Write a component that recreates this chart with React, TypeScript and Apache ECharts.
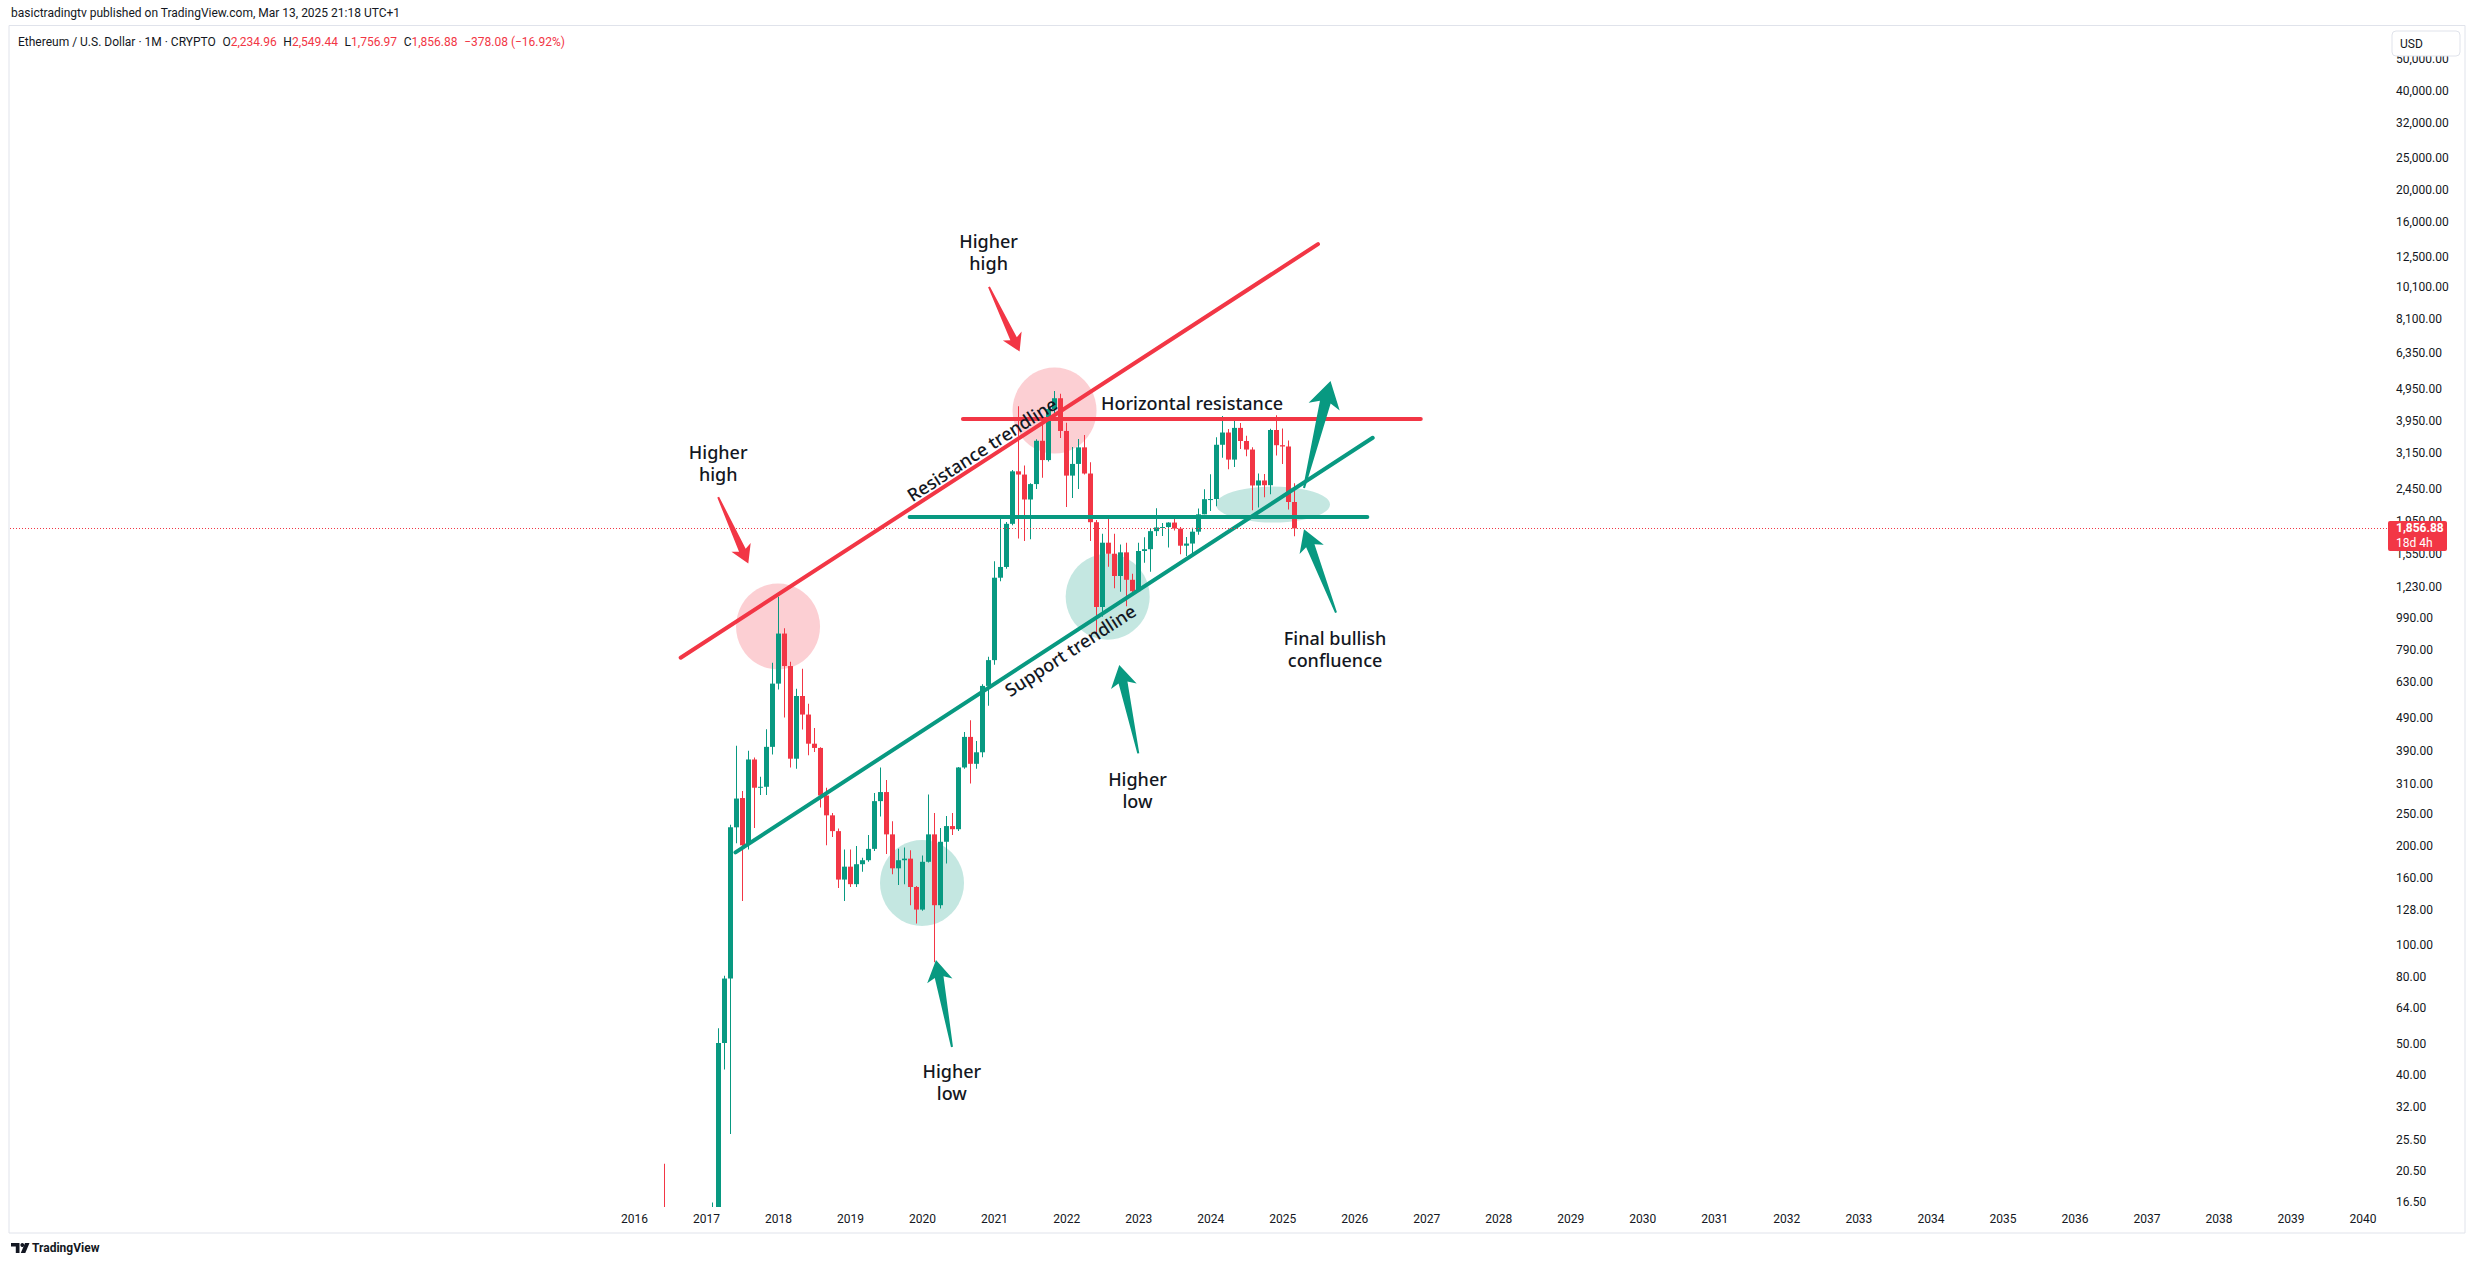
import React, { useEffect, useRef } from "react";
import * as echarts from "echarts";

const RED = "#F23645";
const GREEN = "#089981";
const TEXT = "#131722";
const FONT = "Roboto, 'Noto Sans', sans-serif";
const NOTE_FONT = "'Noto Sans', Roboto, sans-serif";

// ---- monthly candles (ETH / USD, CRYPTO index) ----
const months = [
  "2016-06", "2016-07", "2016-08", "2016-09", "2016-10", "2016-11", "2016-12",
  "2017-01", "2017-02", "2017-03", "2017-04", "2017-05", "2017-06", "2017-07", "2017-08", "2017-09", "2017-10", "2017-11", "2017-12",
  "2018-01", "2018-02", "2018-03", "2018-04", "2018-05", "2018-06", "2018-07", "2018-08", "2018-09", "2018-10", "2018-11", "2018-12",
  "2019-01", "2019-02", "2019-03", "2019-04", "2019-05", "2019-06", "2019-07", "2019-08", "2019-09", "2019-10", "2019-11", "2019-12",
  "2020-01", "2020-02", "2020-03", "2020-04", "2020-05", "2020-06", "2020-07", "2020-08", "2020-09", "2020-10", "2020-11", "2020-12",
  "2021-01", "2021-02", "2021-03", "2021-04", "2021-05", "2021-06", "2021-07", "2021-08", "2021-09", "2021-10", "2021-11", "2021-12",
  "2022-01", "2022-02", "2022-03", "2022-04", "2022-05", "2022-06", "2022-07", "2022-08", "2022-09", "2022-10", "2022-11", "2022-12",
  "2023-01", "2023-02", "2023-03", "2023-04", "2023-05", "2023-06", "2023-07", "2023-08", "2023-09", "2023-10", "2023-11", "2023-12",
  "2024-01", "2024-02", "2024-03", "2024-04", "2024-05", "2024-06", "2024-07", "2024-08", "2024-09", "2024-10", "2024-11", "2024-12",
  "2025-01", "2025-02", "2025-03",
];
const opens = [
  14.0, 12.4, 11.8, 11.5, 13.2, 10.9, 8.6,
  8.0, 10.7, 15.7, 50.2, 78.9, 228, 280, 204, 367, 301, 303, 401,
  625, 888, 707, 369, 573, 503, 410, 398, 285, 248, 222, 158,
  173, 153, 176, 181, 196, 274, 292, 217, 171, 181, 183, 150,
  128, 179, 217, 132, 206, 230, 225, 347, 430, 356, 386, 615,
  737, 1314, 1417, 1918, 2772, 2710, 2275, 2535, 3435, 3000, 4290, 4630,
  3680, 2690, 2920, 3280, 2730, 1940, 1070, 1680, 1555, 1330, 1570, 1295,
  1196, 1585, 1605, 1822, 1870, 1875, 1935, 1855, 1645, 1670, 1815, 2050,
  2280, 2282, 3340, 3640, 3010, 3760, 3430, 3230, 2510, 2600, 2515, 3705,
  3330, 3300, 2234.96,
];
const highs = [
  21.5, 14.6, 12.3, 14.5, 14.3, 11.3, 8.9,
  11.5, 16.4, 55.7, 80.5, 232, 404, 294, 390, 372, 325, 454, 723,
  1150, 922, 728, 603, 694, 543, 458, 400, 301, 252, 226, 195,
  195, 200, 184, 216, 290, 347, 318, 238, 196, 198, 194, 151,
  187, 287, 252, 227, 247, 252, 348, 445, 483, 418, 622, 755,
  1475, 2040, 1943, 2797, 4380, 2890, 2550, 3470, 4030, 4460, 4870, 4780,
  3900, 3290, 3480, 3580, 2955, 1970, 1790, 2030, 1790, 1660, 1680, 1350,
  1680, 1745, 1850, 2140, 1930, 1940, 2030, 1875, 1750, 1865, 2135, 2445,
  2715, 3520, 4090, 3730, 3975, 3890, 3560, 3280, 2730, 2720, 3740, 4110,
  3745, 3440, 2549.44,
];
const lows = [
  11.2, 10.6, 10.0, 11.3, 10.6, 8.3, 6.0,
  8.0, 10.5, 15.2, 41.7, 26.5, 204, 136, 195, 227, 286, 286, 380,
  600, 493, 347, 344, 453, 378, 387, 262, 201, 213, 149, 136,
  150, 150, 167, 179, 193, 246, 189, 164, 152, 153, 132, 116,
  127, 178, 88.5, 129, 177, 216, 222, 344, 310, 344, 373, 535,
  714, 1282, 1400, 1900, 1730, 1700, 1720, 2450, 2650, 2970, 3960, 3500,
  2160, 2300, 2450, 2710, 1700, 880, 1000, 1420, 1220, 1190, 1075, 1160,
  1190, 1460, 1370, 1760, 1760, 1625, 1830, 1550, 1530, 1520, 1775, 2050,
  2100, 2170, 3050, 2815, 2860, 3240, 3080, 2110, 2150, 2310, 2360, 3100,
  2920, 2120, 1756.97,
];
const closes = [
  12.4, 11.8, 11.5, 13.2, 10.9, 8.6, 8.0,
  10.7, 15.7, 50.2, 78.9, 228, 279, 201, 367, 301, 303, 401, 625,
  888, 707, 369, 573, 503, 410, 398, 285, 248, 222, 158, 173,
  153, 176, 181, 196, 274, 292, 217, 171, 181, 183, 150, 128,
  179, 217, 132, 206, 230, 225, 347, 430, 356, 386, 615, 737,
  1314, 1417, 1918, 2772, 2710, 2275, 2535, 3435, 3000, 4290, 4630, 3680,
  2690, 2920, 3280, 2730, 1940, 1070, 1680, 1555, 1330, 1570, 1295, 1196,
  1585, 1605, 1822, 1870, 1875, 1935, 1855, 1645, 1670, 1815, 2050, 2280,
  2282, 3340, 3640, 3010, 3760, 3430, 3230, 2510, 2600, 2515, 3705, 3330,
  3300, 2234.96, 1856.88,
];

// ---- axis tick labels ----
const yearLabels = [
  2016, 2017, 2018, 2019, 2020, 2021, 2022, 2023, 2024, 2025, 2026, 2027, 2028,
  2029, 2030, 2031, 2032, 2033, 2034, 2035, 2036, 2037, 2038, 2039, 2040,
];
const priceLabels = [
  50000, 40000, 32000, 25000, 20000, 16000, 12500, 10100, 8100, 6350, 4950, 3950,
  3150, 2450, 1950, 1550, 1230, 990, 790, 630, 490, 390, 310, 250, 200, 160, 128,
  100, 80, 64, 50, 40, 32, 25.5, 20.5, 16.5,
];

// visible window of the chart (time in years, price in USD)
const X_MIN = 2007.329;
const X_MAX = 2040.333;
const Y_MIN = 15.88;
const Y_MAX = 63090;

// ---- drawings (time, price) ----
const trendLines = [
  { from: [2016.641, 749.6], to: [2025.49, 13650], color: RED },
  { from: [2017.402, 191.2], to: [2026.25, 3508], color: GREEN },
  { from: [2020.56, 4002], to: [2026.917, 4002], color: RED },
  { from: [2019.82, 2018], to: [2026.175, 2018], color: GREEN },
];
const lineLabels = [
  { text: "Resistance trendline", line: 0, frac: 0.482, above: true },
  { text: "Support trendline", line: 1, frac: 0.514, above: false },
];
const circles = [
  { at: [2017.993, 933], size: [84, 86], color: "rgba(242,54,69,0.3)" },
  { at: [2021.832, 4245], size: [84, 86], color: "rgba(242,54,69,0.3)" },
  { at: [2019.992, 154.3], size: [84, 86], color: "rgba(8,153,129,0.3)" },
  { at: [2022.57, 1150], size: [84, 86], color: "rgba(8,153,129,0.3)" },
  { at: [2024.866, 2196], size: [114, 36], color: "rgba(8,153,129,0.3)" },
];
// [tail time, tail price, tip time, tip price]
const redArrows = [
  [2017.162, 2314, 2017.58, 1453],
  [2020.922, 10115, 2021.347, 6428],
];
const greenArrows = [
  [2020.408, 48.8, 2020.186, 89.9],
  [2022.995, 383, 2022.731, 712],
  [2025.296, 2466, 2025.664, 5225],
  [2025.74, 1028, 2025.296, 1845],
];
const notes = [
  { text: "Higher\nhigh", at: [2017.162, 2936] },
  { text: "Higher\nhigh", at: [2020.917, 12960] },
  { text: "Horizontal resistance", at: [2023.741, 4465] },
  { text: "Higher\nlow", at: [2022.984, 296] },
  { text: "Higher\nlow", at: [2020.406, 38.2] },
  { text: "Final bullish\nconfluence", at: [2025.727, 797] },
];

const fmt2 = (v: number) =>
  Number(v).toLocaleString("en-US", { minimumFractionDigits: 2, maximumFractionDigits: 2 });
const monthTime = (s: string) => {
  const [y, m] = s.split("-").map(Number);
  return y + (m - 1) / 12;
};

function arrowRenderer(color: string) {
  return (params: any, api: any) => {
    const a = api.coord([api.value(0), api.value(1)]);
    const b = api.coord([api.value(2), api.value(3)]);
    const dx = b[0] - a[0];
    const dy = b[1] - a[1];
    const L = Math.hypot(dx, dy);
    const ux = dx / L, uy = dy / L;
    const nx = -uy, ny = ux;
    const hl = 0.24 * L, hw = 0.29 * L, sw = 0.1 * L, tw = 2;
    const bx = b[0] - ux * hl, by = b[1] - uy * hl;
    const jx = b[0] - ux * hl * 0.82, jy = b[1] - uy * hl * 0.82;
    const pts = [
      [a[0] + (nx * tw) / 2, a[1] + (ny * tw) / 2],
      [jx + (nx * sw) / 2, jy + (ny * sw) / 2],
      [bx + (nx * hw) / 2, by + (ny * hw) / 2],
      [b[0], b[1]],
      [bx - (nx * hw) / 2, by - (ny * hw) / 2],
      [jx - (nx * sw) / 2, jy - (ny * sw) / 2],
      [a[0] - (nx * tw) / 2, a[1] - (ny * tw) / 2],
    ];
    return { type: "polygon", shape: { points: pts }, style: { fill: color } };
  };
}

function candleRenderer(params: any, api: any) {
  const t = api.value(0);
  const o = api.value(1);
  const c = api.value(2);
  const l = api.value(3);
  const h = api.value(4);
  const po = api.coord([t, o]);
  const pc = api.coord([t, c]);
  const pl = api.coord([t, l]);
  const ph = api.coord([t, h]);
  const color = c >= o ? GREEN : RED;
  const x = Math.floor(po[0]);
  const top = Math.min(po[1], pc[1]);
  const bh = Math.max(Math.abs(po[1] - pc[1]), 1);
  return {
    type: "group",
    children: [
      { type: "rect", shape: { x: x, y: ph[1], width: 1, height: Math.max(pl[1] - ph[1], 1) }, style: { fill: color } },
      { type: "rect", shape: { x: x - 2, y: top, width: 5, height: bh }, style: { fill: color } },
    ],
  };
}

export default function App() {
  const ref = useRef<HTMLDivElement>(null);

  useEffect(() => {
    if (!ref.current) return;
    const chart = echarts.init(ref.current, null, { renderer: "svg" });

    const candles = months.map((m, i) => [monthTime(m), opens[i], closes[i], lows[i], highs[i]]);
    const n = closes.length;
    const lastT = monthTime(months[n - 1]);
    const lastClose = closes[n - 1];
    const prevClose = closes[n - 2];
    const chg = lastClose - prevClose;
    const pct = (chg / prevClose) * 100;
    const sign = (v: number) => (v < 0 ? "\u2212" : "+") + fmt2(Math.abs(v));

    const header2 =
      "{d|Ethereum / U.S. Dollar \u00b7 1M \u00b7 CRYPTO}  " +
      `{d|O}{r|${fmt2(opens[n - 1])}}  {d|H}{r|${fmt2(highs[n - 1])}}  ` +
      `{d|L}{r|${fmt2(lows[n - 1])}}  {d|C}{r|${fmt2(lastClose)}}  ` +
      `{r|${sign(chg)} (${sign(pct)}%)}`;

    const noteStyle = {
      fill: TEXT,
      fontSize: 18,
      fontFamily: NOTE_FONT,
      fontWeight: 500,
    };

    const option: any = {
      animation: false,
      backgroundColor: "#ffffff",
      textStyle: { fontFamily: FONT },
      grid: { left: 10, right: 88, top: 26, bottom: 61, containLabel: false, outerBoundsMode: "none" },
      xAxis: {
        type: "value",
        min: X_MIN,
        max: X_MAX,
        axisLine: { show: false },
        axisTick: { show: false },
        splitLine: { show: false },
        axisLabel: {
          customValues: yearLabels,
          formatter: (v: number) => String(Math.round(v)),
          color: TEXT,
          fontSize: 12,
          fontFamily: FONT,
          margin: 6,
        },
      },
      yAxis: {
        type: "log",
        logBase: 10,
        position: "right",
        min: Y_MIN,
        max: Y_MAX,
        axisLine: { show: false },
        axisTick: { show: false },
        splitLine: { show: false },
        minorSplitLine: { show: false },
        axisLabel: {
          customValues: priceLabels,
          formatter: (v: number) => fmt2(v),
          color: TEXT,
          fontSize: 12,
          fontFamily: FONT,
          align: "left",
          margin: 9,
        },
      },
      series: [
        {
          type: "scatter",
          z: 1,
          silent: true,
          symbol: "circle",
          data: circles.map((c) => ({ value: c.at, symbolSize: c.size, itemStyle: { color: c.color } })),
          markLine: {
            silent: true,
            symbol: ["none", "none"],
            label: { show: false },
            lineStyle: { color: RED, width: 1, type: [1, 2] },
            data: [{ yAxis: lastClose }],
          },
        },
        {
          type: "custom",
          z: 2,
          silent: true,
          clip: true,
          dimensions: ["t", "open", "close", "low", "high"],
          encode: { x: 0, y: [1, 2, 3, 4] },
          data: candles,
          renderItem: candleRenderer,
        },
        {
          type: "lines",
          coordinateSystem: "cartesian2d",
          z: 3,
          silent: true,
          polyline: false,
          lineStyle: { width: 4, opacity: 1, cap: "round" },
          data: trendLines.map((l) => ({ coords: [l.from, l.to], lineStyle: { color: l.color } })),
        },
        {
          type: "custom",
          z: 4,
          silent: true,
          clip: false,
          data: redArrows,
          renderItem: arrowRenderer(RED),
        },
        {
          type: "custom",
          z: 4,
          silent: true,
          clip: false,
          data: greenArrows,
          renderItem: arrowRenderer(GREEN),
        },
        {
          type: "custom",
          z: 5,
          silent: true,
          clip: false,
          data: notes.map((o) => o.at),
          renderItem: (params: any, api: any) => {
            const p = api.coord([api.value(0), api.value(1)]);
            const o = notes[params.dataIndex];
            return {
              type: "text",
              x: p[0],
              y: p[1],
              style: {
                ...noteStyle,
                text: o.text,
                lineHeight: 22,
                align: "center",
                verticalAlign: "middle",
              },
            };
          },
        },
        {
          type: "custom",
          z: 5,
          silent: true,
          clip: false,
          data: lineLabels.map((l) => [...trendLines[l.line].from, ...trendLines[l.line].to]),
          renderItem: (params: any, api: any) => {
            const lab = lineLabels[params.dataIndex];
            const a = api.coord([api.value(0), api.value(1)]);
            const b = api.coord([api.value(2), api.value(3)]);
            const px = a[0] + (b[0] - a[0]) * lab.frac;
            const py = a[1] + (b[1] - a[1]) * lab.frac;
            const ang = Math.atan2(-(b[1] - a[1]), b[0] - a[0]);
            return {
              type: "text",
              x: px,
              y: py,
              rotation: ang,
              style: {
                ...noteStyle,
                text: lab.text,
                x: 0,
                y: lab.above ? -2 : 4,
                align: "center",
                verticalAlign: lab.above ? "bottom" : "top",
              },
            };
          },
        },
        {
          type: "custom",
          z: 10,
          silent: true,
          clip: false,
          data: [[lastT, lastClose]],
          renderItem: (params: any, api: any) => {
            const p = api.coord([api.value(0), api.value(1)]);
            const cs = params.coordSys;
            const x0 = cs.x + cs.width + 1;
            return {
              type: "group",
              children: [
                { type: "rect", shape: { x: x0, y: p[1] - 7.5, width: 59, height: 30, r: 2 }, style: { fill: RED } },
                {
                  type: "text",
                  style: { text: fmt2(api.value(1)), x: x0 + 8, y: p[1], verticalAlign: "middle", fill: "#ffffff", fontSize: 12, fontWeight: "bold", fontFamily: FONT },
                },
                {
                  type: "text",
                  style: { text: "18d 4h", x: x0 + 8, y: p[1] + 14.5, verticalAlign: "middle", fill: "#ffffff", fontSize: 12, fontFamily: FONT },
                },
              ],
            };
          },
        },
      ],
      graphic: [
        {
          type: "rect",
          z: 90,
          silent: true,
          shape: { x: 9, y: 25.5, width: 2456, height: 1207.5 },
          style: { fill: "none", stroke: "#E0E3EB", lineWidth: 1 },
        },
        {
          type: "text",
          z: 100,
          x: 11,
          y: 13,
          style: {
            text: "basictradingtv published on TradingView.com, Mar 13, 2025 21:18 UTC+1",
            fill: TEXT,
            fontSize: 12,
            fontFamily: FONT,
            verticalAlign: "middle",
          },
        },
        {
          type: "text",
          z: 100,
          x: 18,
          y: 42,
          style: {
            text: header2,
            verticalAlign: "middle",
            rich: {
              d: { fill: TEXT, fontSize: 12, fontFamily: FONT },
              r: { fill: RED, fontSize: 12, fontFamily: FONT },
            },
          },
        },
        {
          type: "rect",
          z: 100,
          shape: { x: 2392, y: 31, width: 68, height: 25, r: 4 },
          style: { fill: "#ffffff", stroke: "#E0E3EB", lineWidth: 1 },
        },
        {
          type: "text",
          z: 101,
          x: 2400,
          y: 44,
          style: { text: "USD", fill: TEXT, fontSize: 12, fontFamily: FONT, verticalAlign: "middle" },
        },
        {
          type: "polygon",
          z: 100,
          shape: { points: [[11, 1243], [19.5, 1243], [19.5, 1253], [15.8, 1253], [15.8, 1246.6], [11, 1246.6]] },
          style: { fill: TEXT },
        },
        { type: "circle", z: 100, shape: { cx: 22.3, cy: 1245, r: 1.9 }, style: { fill: TEXT } },
        {
          type: "polygon",
          z: 100,
          shape: { points: [[25, 1243], [29.5, 1243], [25.3, 1253], [20.8, 1253]] },
          style: { fill: TEXT },
        },
        {
          type: "text",
          z: 100,
          x: 32,
          y: 1248,
          style: { text: "TradingView", fill: TEXT, fontSize: 12, fontWeight: "bold", fontFamily: FONT, verticalAlign: "middle" },
        },
      ],
    };

    chart.setOption(option);
    return () => chart.dispose();
  }, []);

  return (
    <div
      ref={ref}
      style={{ position: "fixed", left: 0, top: 0, width: 2475, height: 1268, background: "#ffffff" }}
    />
  );
}
